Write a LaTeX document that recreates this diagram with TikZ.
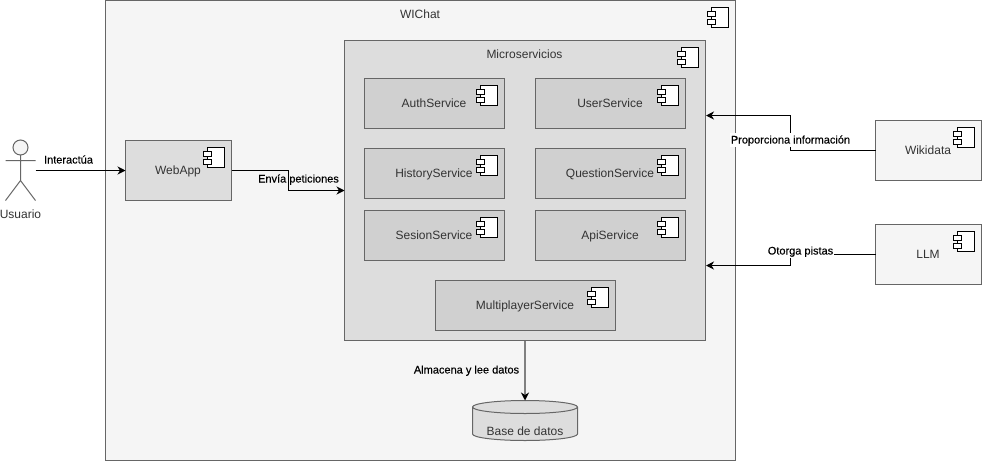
\documentclass[tikz,border=0pt]{standalone}
\usepackage{fontspec}
\setmainfont{Liberation Sans}
\newfontfamily\lblfont[FakeBold=0.2]{Liberation Sans}
\usetikzlibrary{arrows.meta,shapes.geometric}
\definecolor{edge}{HTML}{666666}
\definecolor{ink}{HTML}{333333}
\definecolor{fillA}{HTML}{F5F5F5}
\definecolor{fillB}{HTML}{DDDDDD}
\definecolor{fillC}{HTML}{D0D0D0}
\definecolor{dbline}{HTML}{808080}
\tikzset{
  comp/.style={draw=edge,line width=1pt,inner sep=0pt,outer sep=0pt},
  lvlA/.style={comp,fill=fillA},
  lvlB/.style={comp,fill=fillB},
  lvlC/.style={comp,fill=fillC},
  title/.style={text=ink,font=\fontsize{12}{14}\selectfont,inner sep=0pt,text height=10pt,text depth=1pt},
  link/.style={draw=black,line width=1pt,-{Stealth[length=8pt,width=8pt,inset=2.5pt]}},
  lbl/.style={text=black,font=\lblfont\fontsize{11}{13}\selectfont,inner xsep=0.5pt,inner ysep=1.5pt,text depth=2pt,text height=9pt},
  pics/icon/.style={code={
    \draw[black,line width=1pt,fill=white] (-17,0) rectangle (0,20);
    \draw[black,line width=1pt,fill=white] (-21,4) rectangle (-13,8.5);
    \draw[black,line width=1pt,fill=white] (-21,12) rectangle (-13,16.5);
  }}
}
\newcommand{\boxnode}[6]{%
  \node[#1,minimum width=#5pt-#3pt,minimum height=#6pt-#4pt,anchor=north west] (#2) at (#3,#4) {};
  \pgfmathsetmacro{\ix}{#5-7}\pgfmathsetmacro{\iy}{#4+7}
  \pic at (\ix,\iy) {icon};
}
\begin{document}
\begin{tikzpicture}[x=1pt,y=-1pt]
\useasboundingbox (0,0) rectangle (982,461);
\boxnode{lvlA}{wichat}{105.5}{0.5}{735.5}{460.5}
\node[title] (wichatT) at (420,14) {WIChat};
\boxnode{lvlB}{micro}{344.5}{40.5}{705.5}{340.5}
\node[title] (microT) at (524.5,54) {Microservicios};
\boxnode{lvlC}{auth}{364.5}{78.5}{504.5}{128.5}
\node[title] (authT) at (434,103) {AuthService};
\boxnode{lvlC}{user}{535.5}{78.5}{685.5}{128.5}
\node[title] (userT) at (610,103) {UserService};
\boxnode{lvlC}{hist}{364.5}{148.5}{504.5}{198.5}
\node[title] (histT) at (434,173) {HistoryService};
\boxnode{lvlC}{ques}{535.5}{148.5}{685.5}{198.5}
\node[title] (quesT) at (610,173) {QuestionService};
\boxnode{lvlC}{sesi}{364.5}{210.5}{504.5}{260.5}
\node[title] (sesiT) at (434,235) {SesionService};
\boxnode{lvlC}{apis}{535.5}{210.5}{685.5}{260.5}
\node[title] (apisT) at (610,235) {ApiService};
\boxnode{lvlC}{multi}{435.5}{280.5}{615.5}{330.5}
\node[title] (multiT) at (525,305) {MultiplayerService};
\boxnode{lvlB}{webapp}{125.5}{140.5}{231.5}{200.5}
\node[title] (webappT) at (178,170) {WebApp};
\boxnode{lvlA}{wiki}{875.5}{120.5}{981.5}{180.5}
\node[title] (wikiT) at (928,150) {Wikidata};
\boxnode{lvlA}{llm}{875.5}{224.5}{981.5}{284.5}
\node[title] (llmT) at (928,254) {LLM};
% database
\node[minimum width=105pt,minimum height=40pt,inner sep=0pt,outer sep=0pt] (db) at (525,420.5) {};
\draw[edge,fill=fillB,line width=1pt] (472.5,407) -- (472.5,434)
  arc[x radius=52.5,y radius=-6.5,start angle=180,end angle=360] -- (577.5,407)
  arc[x radius=52.5,y radius=-6.5,start angle=0,end angle=180] -- cycle;
\draw[edge,line width=1pt] (472.5,407) arc[x radius=52.5,y radius=-6.5,start angle=180,end angle=360];
\node[title] (dbT) at (525,431) {Base de datos};
% actor
\node[minimum width=30pt,minimum height=60pt,inner sep=0pt,outer sep=0pt] (actor) at (20.5,170.5) {};
\draw[edge,line width=1pt,fill=fillA] (20.5,147.5) circle[radius=7.5];
\draw[edge,line width=1pt] (20.5,155) -- (20.5,180.5) (5.5,160.5) -- (35.5,160.5) (5.5,200.5) -- (20.5,180.5) -- (35.5,200.5);
\node[title] (actorT) at (20.5,214) {Usuario};
% free ends on the Microservicios border
\coordinate (mwiki) at (706,115.5);
\coordinate (mllm) at (706,265.5);
% connectors
\draw[link] (actor.east) -- (webapp.west);
\draw[link] (webapp.east) -- (288.5,170.5) -- (288.5,190.5) -- (micro.west);
\draw[link] (wiki.west) -- (790.5,150.5) -- (790.5,115.5) -- (mwiki);
\draw[link] (llm.west) -- (790.5,254.5) -- (790.5,265.5) -- (mllm);
\draw[line width=2pt,draw=dbline,-{Stealth[length=8pt,width=8pt,inset=2.5pt,black]}] (micro.south) -- (db.north);
% connector labels
\node[lbl] (l1) at (68.5,160) {Interactúa};
\node[lbl] (l2) at (298.5,179) {Envía peticiones};
\node[lbl,fill=white] (l3) at (790.5,140) {Proporciona información};
\node[lbl,fill=white] (l4) at (800.5,251) {Otorga pistas};
\node[lbl] (l5) at (466.5,370) {Almacena y lee datos};
\end{tikzpicture}
\end{document}
